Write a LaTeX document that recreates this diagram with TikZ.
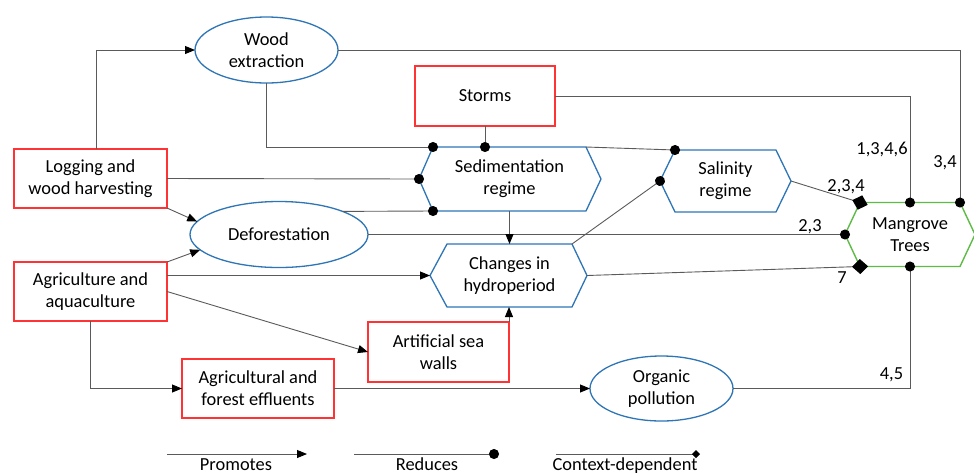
\documentclass[tikz,border=0pt]{standalone}
\usepackage{fontspec}
\setmainfont{Carlito}
\usetikzlibrary{arrows.meta,shapes.geometric,calc}
\definecolor{cred}{HTML}{FF3333}
\definecolor{cblue}{HTML}{2E75B6}
\definecolor{cgreen}{HTML}{5DBB46}
\definecolor{cline}{HTML}{5A5A5A}
\begin{document}
\begin{tikzpicture}[x=1pt,y=-1pt,
  every node/.style={font=\fontsize{18.4}{22}\selectfont, align=center, inner sep=0pt, outer sep=0pt},
  redbox/.style={draw=cred, line width=1.6pt, fill=white, rectangle},
  ovalbox/.style={draw=cblue, line width=1.3pt, fill=white, ellipse},
  hexbox/.style={rectangle, draw=none},
  hexblue/.style={draw=cblue, line width=1.3pt, fill=white, line join=miter},
  hexgreen/.style={draw=cgreen, line width=1.4pt, fill=white, line join=miter},
  conn/.style={draw=cline, line width=0.9pt},
  prom/.style={conn, -{Triangle[length=10pt,width=8pt,color=black]}},
  redu/.style={conn, shorten >=-5pt, -{Circle[length=10pt,color=black]}},
  ctx/.style={conn, shorten >=-8pt, -{Diamond[length=16pt,width=15pt,color=black]}},
  ctxsmall/.style={conn, shorten >=-4pt, -{Diamond[length=8pt,width=8pt,color=black]}},
  lbl/.style={font=\fontsize{18.4}{22}\selectfont}
]
\useasboundingbox (0,0) rectangle (974,475);

% rectangles
\node[redbox, minimum width=140, minimum height=60] (storms) at (485,96) {Storms};
\node[redbox, minimum width=153, minimum height=59] (log) at (90.5,178.5) {Logging and\\wood harvesting};
\node[redbox, minimum width=153, minimum height=59] (agri) at (90.5,291.5) {Agriculture and\\aquaculture};
\node[redbox, minimum width=141, minimum height=60] (art) at (438.5,352) {Artificial sea\\walls};
\node[redbox, minimum width=152, minimum height=59] (eff) at (258,388.5) {Agricultural and\\forest effluents};

% ellipses
\node[ovalbox, minimum width=143, minimum height=66] (wood) at (266.5,50) {Wood\\extraction};
\node[ovalbox, minimum width=178, minimum height=66] (defor) at (279,234.5) {Deforestation};
\node[ovalbox, minimum width=143, minimum height=65] (org) at (661.5,388.5) {Organic\\pollution};

% hexagons
\node[hexbox, minimum width=153, minimum height=64] (sed) at (509.5,179) {};
\coordinate (sed-w) at ($(sed.west)+(-14,0)$);
\coordinate (sed-e) at ($(sed.east)+(15,0)$);
\draw[hexblue] (sed.north west) -- (sed.north east) -- (sed-e) -- (sed.south east) -- (sed.south west) -- (sed-w) -- cycle;
\node at (sed) {Sedimentation\\regime};

\node[hexbox, minimum width=101, minimum height=62] (sal) at (725.5,181) {};
\coordinate (sal-w) at ($(sal.west)+(-15,0)$);
\coordinate (sal-e) at ($(sal.east)+(15,0)$);
\draw[hexblue] (sal.north west) -- (sal.north east) -- (sal-e) -- (sal.south east) -- (sal.south west) -- (sal-w) -- cycle;
\node at (sal) {Salinity\\regime};

\node[hexbox, minimum width=125, minimum height=63] (hyd) at (509.5,275.5) {};
\coordinate (hyd-w) at ($(hyd.west)+(-17,0)$);
\coordinate (hyd-e) at ($(hyd.east)+(15,0)$);
\draw[hexblue] (hyd.north west) -- (hyd.north east) -- (hyd-e) -- (hyd.south east) -- (hyd.south west) -- (hyd-w) -- cycle;
\node at (hyd) {Changes in\\hydroperiod};

\node[hexbox, minimum width=100, minimum height=64] (man) at (910,234.5) {};
\coordinate (man-w) at ($(man.west)+(-15,0)$);
\coordinate (man-e) at ($(man.east)+(15,0)$);
\draw[hexgreen] (man.north west) -- (man.north east) -- (man-e) -- (man.south east) -- (man.south west) -- (man-w) -- cycle;
\node at (man) {Mangrove\\Trees};

% connectors
\draw[prom] ([xshift=6pt]log.north) |- (wood.west);
\draw[redu] (wood.east) -| (man.north east);
\draw[redu] (wood.south) |- (sed.north west);
\draw[redu] (storms.south) -- (storms.south |- sed.north);
\draw[redu] (storms.east) -| (man.north);
\draw[redu] (log.east) -- (sed-w);
\draw[prom] (log.south east) -- (defor.171);
\draw[redu] (defor.20) -- (sed.south west);
\draw[redu] (defor.east) -- (man-w);
\draw[prom] (agri.north east) -- (defor.191);
\draw[prom] (agri.east |- hyd-w) -- (hyd-w);
\draw[prom] (agri.east) -- (art.west);
\draw[prom] (agri.south) |- (eff.west);
\draw[prom] (eff.east) -- (org.west);
\draw[redu] (org.east) -| (man.south);
\draw[prom] (sed.south) -- (hyd.north);
\draw[prom] (art.north east) -- (art.north east |- hyd.south);
\draw[redu] (sed.north east) -- (sal.north west);
\draw[redu] (hyd.north east) -- (sal-w);
\draw[ctx] (sal-e) -- (man.north west);
\draw[ctx] (hyd-e) -- (man.south west);

% labels
\node[lbl] (l34) at (945,163) {3,4};
\node[lbl] (l1346) at (882,149) {1,3,4,6};
\node[lbl] (l234) at (846,187) {2,3,4};
\node[lbl] (l23) at (810,227) {2,3};
\node[lbl] (l7) at (842,278) {7};
\node[lbl] (l45) at (891.5,375) {4,5};

% legend
\coordinate (pa) at (167,454);
\coordinate (pb) at (307,454);
\draw[prom] (pa) -- (pb);
\node[anchor=base] (tprom) at (236,470.5) {Promotes};
\coordinate (ra) at (354,454);
\coordinate (rb) at (494,454);
\draw[redu] (ra) -- (rb);
\node[anchor=base] (tred) at (427,470.5) {Reduces};
\coordinate (ca) at (556,454);
\coordinate (cb) at (696,454);
\draw[ctxsmall] (ca) -- (cb);
\node[anchor=base] (tctx) at (625,470.5) {Context-dependent};
\end{tikzpicture}
\end{document}
